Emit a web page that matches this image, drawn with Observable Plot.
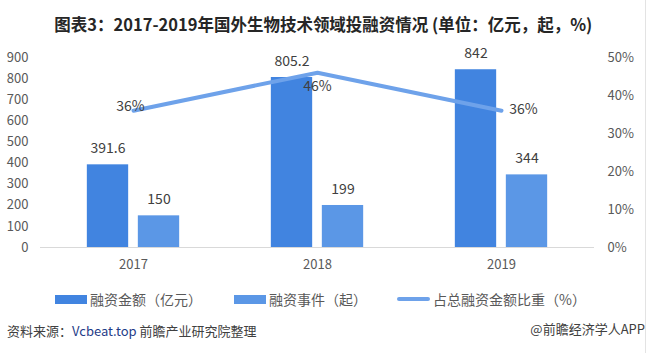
<!DOCTYPE html>
<html>
<head>
<meta charset="utf-8">
<script src="https://cdn.jsdelivr.net/npm/d3@7"></script>
<script src="https://cdn.jsdelivr.net/npm/@observablehq/plot@0.6"></script>
<style>
  html, body { margin: 0; padding: 0; background: #fff; }
  #wrap { position: relative; width: 646px; height: 353px; overflow: hidden; font-family: "Noto Sans CJK SC", "Noto Sans", sans-serif; background: #fff; }
  #title { position: absolute; left: 0; width: 646px; top: 12px; text-align: center; font-size: 17px; font-weight: bold; color: #262626; line-height: 24px; white-space: nowrap; }
  #title span { display: inline-block; transform: scaleX(0.97); }
  #chart { position: absolute; left: 0; top: 36px; }
  .leg { position: absolute; top: 289px; font-size: 14px; color: #595959; line-height: 20px; white-space: nowrap; }
  .sw { position: absolute; }
  #src { position: absolute; left: 7px; top: 321px; font-size: 13px; color: #404040; line-height: 20px; white-space: nowrap; }
  #src .u { color: #1f3c88; }
  #app { position: absolute; right: 1px; top: 319px; font-size: 13px; color: #404040; line-height: 20px; white-space: nowrap; }
  #edge { position: absolute; left: 645px; top: 0; width: 1px; height: 353px; background: #e3e3e3; }
</style>
</head>
<body>
<div id="wrap">
  <div id="title"><span>图表3：2017-2019年国外生物技术领域投融资情况 (单位：亿元，起，%)</span></div>
  <div id="chart"></div>
  <div class="sw" id="sw1"></div><div class="leg" id="lg1"></div>
  <div class="sw" id="sw2"></div><div class="leg" id="lg2"></div>
  <div class="sw" id="sw3"></div><div class="leg" id="lg3"></div>
  <div id="src">资料来源：<span class="u">Vcbeat.top</span> 前瞻产业研究院整理</div>
  <div id="app">@前瞻经济学人APP</div>
  <div id="edge"></div>
</div>
<script>
// ---- data ----
const years = ["2017", "2018", "2019"];
const amount = [391.6, 805.2, 842];      // 融资金额（亿元）
const events = [150, 199, 344];          // 融资事件（起）
const share = [36, 46, 36];              // 占总融资金额比重（%）
const leftTicks = [0, 100, 200, 300, 400, 500, 600, 700, 800, 900];
const rightTicks = [0, 10, 20, 30, 40, 50];
const seriesNames = ["融资金额（亿元）", "融资事件（起）", "占总融资金额比重（%）"];
const colors = ["#4184e0", "#5b97e6", "#6ea2ea"];

// right axis maps 0–50% onto left 0–900
const k = 900 / 50;
const rows = years.map((y, i) => ({year: y, amount: amount[i], events: events[i], share: share[i]}));

const W = 646, H = 236;
const mL = 40, mR = 52, mT = 21, mB = 25;
const band = (W - mL - mR) / years.length;
const bw = 42, gap = 9;
// inset so the two bars sit in the middle of each band
const inner = (band - (2 * bw + gap)) / 2;
const off1 = -(gap / 2 + bw / 2), off2 = gap / 2 + bw / 2;

const labelFont = 14;
const chart = Plot.plot({
  width: W, height: H,
  marginLeft: mL, marginRight: mR, marginTop: mT, marginBottom: mB,
  style: {fontFamily: '"Noto Sans CJK SC", "Noto Sans", sans-serif', background: "transparent", overflow: "visible"},
  x: {type: "band", domain: years, padding: 0},
  y: {domain: [0, 900]},
  marks: [
    Plot.ruleY([0], {stroke: "#d9d9d9", strokeWidth: 1}),
    Plot.barY(rows, {x: "year", y: "amount", fill: colors[0], insetLeft: inner, insetRight: inner + bw + gap}),
    Plot.barY(rows, {x: "year", y: "events", fill: colors[1], insetLeft: inner + bw + gap, insetRight: inner}),
    Plot.text(rows, {x: "year", y: "amount", text: d => String(d.amount), dx: off1, dy: -16, fontSize: labelFont, fill: "#404040"}),
    Plot.text(rows, {x: "year", y: "events", text: d => String(d.events), dx: off2, dy: -16, fontSize: labelFont, fill: "#404040"}),
    Plot.line(rows, {x: "year", y: d => d.share * k, stroke: colors[2], strokeWidth: 4, strokeLinecap: "round", strokeLinejoin: "round"}),
    Plot.text(rows.filter((d, i) => i === 0), {x: "year", y: d => d.share * k, text: d => d.share + "%", dx: -3, dy: -4, fontSize: labelFont, fill: "#404040"}),
    Plot.text(rows.filter((d, i) => i === 1), {x: "year", y: d => d.share * k, text: d => d.share + "%", dx: 0, dy: 14, fontSize: labelFont, fill: "#404040"}),
    Plot.text(rows.filter((d, i) => i === 2), {x: "year", y: d => d.share * k, text: d => d.share + "%", dx: 22, dy: -1, fontSize: labelFont, fill: "#404040"}),
    Plot.axisY(leftTicks, {anchor: "left", tickSize: 0, tickPadding: 12, fontSize: 13, color: "#595959", label: null}),
    Plot.axisY(rightTicks.map(t => t * k), {anchor: "right", tickSize: 0, tickPadding: 13, fontSize: 13, color: "#595959", label: null, tickFormat: v => Math.round(v / k) + "%"}),
    Plot.axisX({tickSize: 0, tickPadding: 12, fontSize: 13, color: "#595959", label: null})
  ]
});
document.getElementById("chart").appendChild(chart);

// ---- legend ----
const legY = 299;
const sw = [
  {id: "sw1", x: 55, w: 32, h: 9, r: 0},
  {id: "sw2", x: 234, w: 32, h: 9, r: 0},
  {id: "sw3", x: 397, w: 33, h: 4, r: 2}
];
const lgX = [90, 269, 433];
sw.forEach((s, i) => {
  const el = document.getElementById(s.id);
  el.style.left = s.x + "px";
  el.style.top = (legY - s.h / 2) + "px";
  el.style.width = s.w + "px";
  el.style.height = s.h + "px";
  el.style.background = colors[i];
  el.style.borderRadius = s.r + "px";
  const lg = document.getElementById("lg" + (i + 1));
  lg.textContent = seriesNames[i];
  lg.style.left = lgX[i] + "px";
});
</script>
</body>
</html>
